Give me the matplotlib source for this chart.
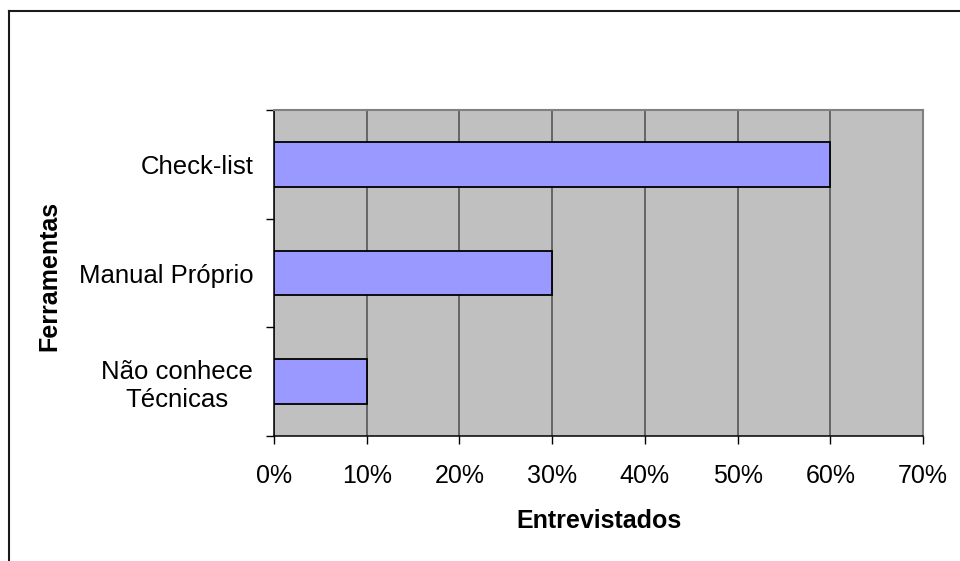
import matplotlib
matplotlib.use("Agg")
import matplotlib.pyplot as plt
from matplotlib.lines import Line2D
import numpy as np

# tools used by the interviewees (share of answers)
categories = ["Check-list", "Manual Próprio", "Não conhece\nTécnicas"]
shares = [0.60, 0.30, 0.10]
xticks = [0.0, 0.1, 0.2, 0.3, 0.4, 0.5, 0.6, 0.7]

plt.rcParams['font.family'] = ['Liberation Sans', 'DejaVu Sans']

fig = plt.figure(figsize=(9.6, 5.61), dpi=100)
ax = fig.add_axes([274 / 960, 1 - 436 / 561, 649 / 960, 326 / 561])
ax.set_facecolor('#c0c0c0')

y = np.arange(len(categories))
ax.barh(y, shares, height=0.41, color='#9999ff', edgecolor='black',
        linewidth=1.3, zorder=3)

ax.set_xlim(0, 0.7)
ax.set_ylim(len(categories) - 0.5, -0.5)

# x axis: percent labels with vertical grid
ax.set_xticks(xticks)
ax.set_xticklabels([f"{int(round(t * 100))}%" for t in xticks], fontsize=18)
ax.grid(axis='x', color='#4d4d4d', linewidth=1.1, zorder=1)
ax.tick_params(axis='x', direction='out', length=6, width=1, pad=14)

# y axis: ticks on category boundaries, labels in the middle
ax.set_yticks(np.arange(len(categories) + 1) - 0.5)
ax.set_yticklabels([])
ax.set_yticks(y, minor=True)
ax.set_yticklabels(categories, minor=True, fontsize=18.5, ha='right',
                   multialignment='center')
ax.tick_params(axis='y', which='major', direction='out', length=6, width=1)
ax.tick_params(axis='y', which='minor', length=0, pad=15)

for side in ('left', 'bottom'):
    ax.spines[side].set_color('black')
    ax.spines[side].set_linewidth(1.1)
for side in ('top', 'right'):
    ax.spines[side].set_color('#808080')
    ax.spines[side].set_linewidth(1.5)

ax.set_xlabel("Entrevistados", fontsize=18, fontweight='bold')
ax.xaxis.set_label_coords(0.5, -0.225)
ax.set_ylabel("Ferramentas", fontsize=18, fontweight='bold')
ax.yaxis.set_label_coords(-0.327, 0.49)

# chart frame (top and left edges)
fig.add_artist(Line2D([9 / 960, 1], [1 - 10.5 / 561, 1 - 10.5 / 561],
                      transform=fig.transFigure, color='#1a1a1a', linewidth=1.5))
fig.add_artist(Line2D([9 / 960, 9 / 960], [0, 1 - 10.5 / 561],
                      transform=fig.transFigure, color='#1a1a1a', linewidth=1.5))

fig.savefig("out.png", dpi=100)
